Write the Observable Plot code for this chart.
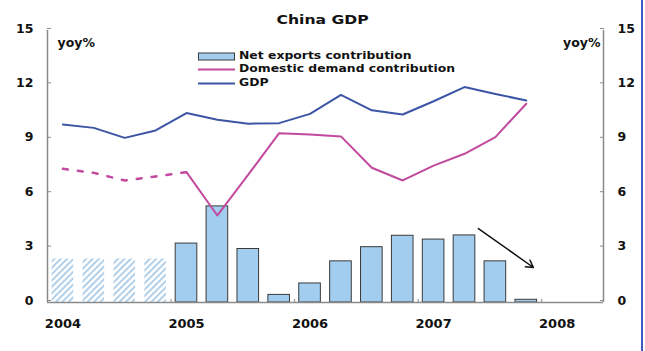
<!DOCTYPE html>
<html>
<head>
<meta charset="utf-8">
<script src="https://cdn.jsdelivr.net/npm/d3@7"></script>
<script src="https://cdn.jsdelivr.net/npm/@observablehq/plot@0.6"></script>
<style>
  html, body { margin: 0; padding: 0; background: #fff; }
  #wrap { position: relative; width: 645px; height: 351px; overflow: hidden;
          font-family: "DejaVu Sans", sans-serif; font-weight: bold; color: #111; }
  #wrap svg.plot { position: absolute; left: 0; top: 0; }
  #title { position: absolute; left: 0; width: 645px; top: 12px; text-align: center;
           font-size: 13px; line-height: 15px; transform: scaleX(1.2); transform-origin: 322px 0; }
  .leg { position: absolute; left: 198px; height: 14px; display: flex; align-items: center; white-space: nowrap; }
  .leg svg { display: block; margin-top: 3px; }
  .leg span { margin-left: 4px; font-size: 10.5px; line-height: 14px; display: inline-block;
              transform: scaleX(1.18); transform-origin: 0 50%; }
  #edge { position: absolute; left: 641px; top: 0; width: 2px; height: 351px; background: #3d5cc2; }
</style>
</head>
<body>
<div id="wrap">
  <div id="title">China GDP</div>
  <div id="edge"></div>
</div>
<script>
// Quarterly series, 2004Q1 – 2007Q4 (index 0 = 2004Q1)
const quarters = ["2004Q1","2004Q2","2004Q3","2004Q4",
                  "2005Q1","2005Q2","2005Q3","2005Q4",
                  "2006Q1","2006Q2","2006Q3","2006Q4",
                  "2007Q1","2007Q2","2007Q3","2007Q4"];
// Net exports contribution, yoy% (2004 values are estimates, drawn hatched)
const netExports = [2.4, 2.4, 2.4, 2.4,
                    3.25, 5.3, 2.95, 0.42,
                    1.05, 2.27, 3.05, 3.68,
                    3.47, 3.7, 2.27, 0.15];
const estimated = [true, true, true, true,
                   false, false, false, false,
                   false, false, false, false,
                   false, false, false, false];
// Domestic demand contribution, yoy%
const domestic = [7.37, 7.15, 6.73, 6.95,
                  7.19, 4.8, 7.05, 9.34,
                  9.27, 9.16, 7.43, 6.73,
                  7.55, 8.2, 9.12, 10.96];
// Real GDP growth, yoy%
const gdp = [9.82, 9.63, 9.08, 9.49,
             10.45, 10.08, 9.86, 9.89,
             10.4, 11.45, 10.6, 10.37,
             11.1, 11.88, 11.5, 11.14];
// Last quarter of the dashed (estimated) domestic demand segment
const dashedUntil = 4;

// Axis ticks and labels
const years = ["2004", "2005", "2006", "2007", "2008"];
const yTicks = [0, 3, 6, 9, 12, 15];
const xDomain = [-0.5, 17.5];

// Trend arrow annotation (quarter index, yoy%)
const trendArrow = [{x1: 13.45, y1: 4.08, x2: 15.23, y2: 1.93}];

// Legend entries
const legendItems = [
  {label: "Net exports contribution", kind: "bar", color: "#a2cdee"},
  {label: "Domestic demand contribution", kind: "line", color: "#c24a9e"},
  {label: "GDP", kind: "line", color: "#3c55a5"}
];

const rows = quarters.map((q, i) => ({
  q, i, net: netExports[i], est: estimated[i], dom: domestic[i], gdp: gdp[i]
}));

const barHalf = 0.35;
const axisGray = "#8a8a8a";

const hatchDefs = () => {
  const defs = d3.create("svg:defs");
  const p = defs.append("pattern")
    .attr("id", "hatch")
    .attr("patternUnits", "userSpaceOnUse")
    .attr("width", 4.5).attr("height", 4.5)
    .attr("patternTransform", "rotate(45)");
  p.append("line")
    .attr("x1", 1).attr("y1", 0).attr("x2", 1).attr("y2", 4.5)
    .attr("stroke", "#a9cbe8").attr("stroke-width", 1.8);
  return defs.node();
};

const plot = Plot.plot({
  width: 645,
  height: 351,
  marginLeft: 47,
  marginRight: 42,
  marginTop: 30,
  marginBottom: 49,
  style: {fontFamily: "DejaVu Sans, sans-serif", fontWeight: "bold", color: "#111", background: "transparent"},
  x: {type: "linear", domain: xDomain, axis: null},
  y: {domain: [0, 15], axis: null},
  marks: [
    hatchDefs,
    // net exports bars
    Plot.rectY(rows.filter(d => d.est), {
      x1: d => d.i - barHalf, x2: d => d.i + barHalf, y: "net",
      fill: "url(#hatch)"
    }),
    Plot.rectY(rows.filter(d => !d.est), {
      x1: d => d.i - barHalf, x2: d => d.i + barHalf, y: "net",
      fill: "#a2cdee", stroke: "#3a3a3a", strokeWidth: 1
    }),
    // frame: baseline and the two vertical axis lines
    Plot.ruleY([0], {stroke: axisGray, strokeWidth: 1.5}),
    Plot.ruleX(xDomain, {y1: 0, y2: 15, stroke: axisGray, strokeWidth: 1.5}),
    // domestic demand: dashed for the estimated period, solid after
    Plot.line(rows.filter(d => d.i <= dashedUntil), {
      x: "i", y: "dom", stroke: "#c24a9e", strokeWidth: 2.5, strokeDasharray: "5,10"
    }),
    Plot.line(rows.filter(d => d.i >= dashedUntil), {
      x: "i", y: "dom", stroke: "#c24a9e", strokeWidth: 2
    }),
    // GDP
    Plot.line(rows, {x: "i", y: "gdp", stroke: "#3c55a5", strokeWidth: 2}),
    // trend arrow
    Plot.arrow(trendArrow, {
      x1: "x1", y1: "y1", x2: "x2", y2: "y2",
      stroke: "#111", strokeWidth: 1.5, headLength: 8, bend: 0
    }),
    // y axes (ticks pointing inward)
    Plot.axisY({anchor: "left", ticks: yTicks, tickSize: -4, tickPadding: 18,
                stroke: axisGray, fill: "#111", fontSize: 12.5, dy: -2}),
    Plot.axisY({anchor: "right", ticks: yTicks, tickSize: -4, tickPadding: 18,
                stroke: axisGray, fill: "#111", fontSize: 12.5, dy: -2}),
    Plot.text(["yoy%"], {text: d => d, frameAnchor: "top-left", textAnchor: "start",
                         dx: 10, dy: 8, fontSize: 12.5, fill: "#111"}),
    Plot.text(["yoy%"], {text: d => d, frameAnchor: "top-right", textAnchor: "end",
                         dx: -3, dy: 8, fontSize: 12.5, fill: "#111"}),
    // x axis: year labels and small year-boundary ticks
    Plot.axisX({ticks: years.map((y, k) => k * 4), tickSize: 0, tickPadding: 16,
                tickFormat: d => years[d / 4], fontSize: 13, fill: "#111"}),
    Plot.axisX({ticks: years.slice(1).map((y, k) => k * 4 + 3.5), tickSize: -3,
                tickFormat: () => "", stroke: axisGray})
  ]
});
plot.classList.add("plot");

const wrap = document.getElementById("wrap");
wrap.insertBefore(plot, wrap.firstChild);

// legend
const rowCenters = [54.5, 68, 81.5];
legendItems.forEach((it, k) => {
  const div = document.createElement("div");
  div.className = "leg";
  div.style.top = (rowCenters[k] - 7) + "px";
  const sw = it.kind === "bar"
    ? `<svg width="37" height="9"><rect x="0.5" y="1" width="36" height="7" fill="${it.color}" stroke="#3a3a3a" stroke-width="1"/></svg>`
    : `<svg width="37" height="9"><line x1="0" x2="37" y1="4.5" y2="4.5" stroke="${it.color}" stroke-width="2"/></svg>`;
  div.innerHTML = sw + `<span>${it.label}</span>`;
  wrap.appendChild(div);
});
</script>
</body>
</html>
